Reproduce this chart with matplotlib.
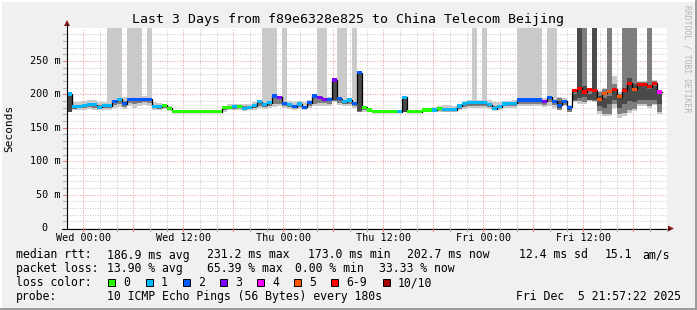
import numpy as np
import pandas as pd
import matplotlib
matplotlib.use("Agg")
import matplotlib.pyplot as plt
import matplotlib.dates as mdates
from matplotlib.transforms import blended_transform_factory
from matplotlib.patches import Rectangle, Polygon

nan = np.nan

# ---------------- data ----------------
TITLE = "Last 3 Days from f89e6328e825 to China Telecom Beijing"
BIN_START = "2025-12-02 22:00"
BIN_MINUTES = 36
VIEW_START = "2025-12-02 22:02:30"
VIEW_HOURS = 72

median_ms = [
    200.6, 181.6, 182.0, 183.7, 185.2, 184.5, 181.0, 183.0, 183.0, 190.0,
    192.6, 186.0, 192.6, 192.0, 192.0, 192.6, 192.6, 181.6, 181.6, 183.7,
    179.0, 174.1, 174.1, 174.1, 174.1, 174.1, 174.1, 174.1, 174.1, 174.1,
    174.1, 180.0, 181.0, 181.6, 181.6, 179.0, 180.5, 183.0, 189.0, 184.6,
    187.6, 197.6, 195.6, 186.6, 184.6, 181.6, 185.6, 180.6, 187.6, 197.6,
    195.6, 193.0, 193.0, 221.6, 193.6, 189.0, 191.6, 186.6, 232.5, 180.6,
    176.6, 174.1, 174.1, 174.1, 174.1, 174.1, 174.1, 195.6, 174.1, 174.1,
    174.1, 176.6, 176.6, 176.6, 178.6, 177.0, 177.0, 177.0, 182.6, 186.6,
    187.6, 187.6, 187.6, 187.6, 184.6, 178.6, 181.6, 185.6, 186.6, 186.6,
    191.6, 191.6, 191.6, 191.6, 191.6, 190.0, 195.6, 190.0, 183.6, 190.0,
    180.6, 205.6, 209.0, 203.6, 207.6, 206.0, 192.6, 201.6, 205.0, 208.0,
    196.6, 206.0, 216.6, 208.0, 215.0, 215.0, 211.6, 216.6, 203.6,
]

lost_pings = [
    1, 1, 1, 1, 1, 1, 1, 1, 1, 2,
    1, 2, 2, 2, 2, 2, 2, 1, 1, 0,
    0, 0, 0, 0, 0, 0, 0, 0, 0, 0,
    0, 0, 0, 1, 0, 1, 1, 1, 1, 1,
    1, 2, 3, 2, 1, 2, 1, 2, 2, 2,
    3, 3, 2, 3, 2, 1, 1, 2, 2, 0,
    0, 0, 0, 0, 0, 0, 1, 1, 0, 0,
    0, 0, 0, 1, 0, 1, 1, 1, 1, 1,
    1, 1, 1, 1, 1, 1, 1, 1, 1, 1,
    2, 2, 2, 2, 2, 3, 2, 2, 2, 2,
    2, 6, 6, 6, 6, 6, 5, 5, 5, 6,
    5, 6, 6, 5, 6, 6, 6, 6, 4,
]

# smoke: outer (lightest), middle and inner (darkest) ranges, ms
smoke_outer_lo = [
    174, 176, 176, 177, 178, 177, 176, 177, 176, 180,
    181, 178, 182, 180, 182, 184, 183, 177, 176, 178,
    175, nan, nan, nan, nan, nan, nan, nan, nan, nan,
    nan, 174, 176, 176, 176, 175, 176, 177, 180, 178,
    180, 181, 182, 179, 178, 176, 178, 176, 179, 182,
    183, 183, 183, 189, 184, 182, 183, 180, 174, 174,
    174, nan, nan, nan, nan, nan, nan, 174, nan, nan,
    nan, 174, 174, 174, 174, 174, 174, 174, 176, 178,
    180, 180, 180, 180, 178, 176, 177, 179, 179, 179,
    182, 182, 182, 182, 182, 181, 182, 180, 176, 182,
    173, 188, 185, 185, 190, 188, 170, 168, 168, 180,
    165, 168, 172, 175, 182, 182, 180, 184, 170,
]
smoke_outer_hi = [
    201, 189, 188, 190, 191, 191, 188, 189, 400, 400,
    400, 196, 400, 400, 400, 197, 400, 188, 187, 186,
    182, nan, nan, nan, nan, nan, nan, nan, nan, nan,
    nan, 182, 185, 186, 186, 185, 186, 188, 191, 400,
    400, 400, 198, 400, 190, 188, 190, 188, 192, 200,
    400, 400, 196, 223, 400, 400, 195, 400, 234, 183,
    178, nan, nan, nan, nan, nan, nan, 196, nan, nan,
    nan, 180, 180, 181, 182, 184, 184, 183, 186, 190,
    192, 400, 192, 400, 191, 188, 188, 190, 190, 191,
    400, 400, 400, 400, 400, 195, 400, 400, 196, 194,
    184, 208, 400, 400, 210, 400, 205, 210, 400, 228,
    203, 400, 400, 400, 220, 220, 400, 222, 206,
]
smoke_mid_lo = [
    174, 178, 179, 180, 181, 180, 178, 179, 179, 184,
    186, 181, 187, 186, 187, 188, 187, 179, 178, 180,
    177, nan, nan, nan, nan, nan, nan, nan, nan, nan,
    nan, 176, 178, 178, 179, 177, 178, 179, 183, 181,
    183, 186, 186, 182, 181, 179, 181, 178, 182, 186,
    187, 187, 186, 190, 187, 185, 186, 183, 174, 176,
    175, nan, nan, nan, nan, nan, nan, 174, nan, nan,
    nan, 175, 175, 175, 176, 175, 175, 175, 178, 181,
    183, 183, 183, 183, 181, 177, 179, 182, 182, 182,
    186, 186, 186, 186, 186, 184, 188, 184, 177, 184,
    174, 190, 190, 189, 191, 190, 175, 170, 170, 185,
    170, 172, 176, 178, 186, 186, 183, 186, 174,
]
smoke_mid_hi = [
    201, 184, 184, 186, 187, 186, 184, 185, 186, 192,
    194, 190, 194, 194, 194, 194, 194, 184, 184, 185,
    180, nan, nan, nan, nan, nan, nan, nan, nan, nan,
    nan, 181, 183, 184, 184, 182, 183, 185, 190, 187,
    190, 200, 197, 189, 187, 184, 187, 183, 190, 199,
    197, 195, 195, 222, 195, 191, 193, 189, 233, 182,
    177, nan, nan, nan, nan, nan, nan, 196, nan, nan,
    nan, 178, 178, 178, 180, 180, 180, 180, 184, 188,
    189, 189, 189, 189, 187, 183, 184, 187, 188, 188,
    193, 193, 193, 193, 193, 192, 197, 192, 195, 192,
    183, 207, 400, 400, 209, 400, 204, 208, 400, 215,
    200, 400, 400, 400, 218, 218, 400, 220, 205,
]
smoke_inner_lo = [
    174, nan, nan, nan, nan, nan, nan, nan, nan, nan,
    nan, nan, nan, nan, nan, nan, nan, nan, nan, nan,
    nan, nan, nan, nan, nan, nan, nan, nan, nan, nan,
    nan, nan, nan, nan, nan, nan, nan, nan, nan, nan,
    nan, nan, nan, nan, nan, nan, nan, nan, nan, nan,
    nan, nan, nan, 191.6, nan, nan, nan, nan, 174.6, nan,
    nan, nan, nan, nan, nan, nan, nan, 174, nan, nan,
    nan, nan, nan, nan, nan, nan, nan, nan, nan, nan,
    nan, nan, nan, nan, nan, nan, nan, nan, nan, nan,
    nan, nan, nan, nan, nan, nan, nan, nan, 180, nan,
    176, 192, 195, 196, 192, 192, 183, 180, 185, 192,
    180, 185, 190, 188, 192, 192, 192, 192, 185,
]
smoke_inner_hi = [
    200, nan, nan, nan, nan, nan, nan, nan, nan, nan,
    nan, nan, nan, nan, nan, nan, nan, nan, nan, nan,
    nan, nan, nan, nan, nan, nan, nan, nan, nan, nan,
    nan, nan, nan, nan, nan, nan, nan, nan, nan, nan,
    nan, nan, nan, nan, nan, nan, nan, nan, nan, nan,
    nan, nan, nan, 221.6, nan, nan, nan, nan, 232.5, nan,
    nan, nan, nan, nan, nan, nan, nan, 195.6, nan, nan,
    nan, nan, nan, nan, nan, nan, nan, nan, nan, nan,
    nan, nan, nan, nan, nan, nan, nan, nan, nan, nan,
    nan, nan, nan, nan, nan, nan, nan, nan, 190, nan,
    182, 200, 400, 212, 200, 400, 197, 195, 198, 206,
    195, 210, 225, 215, 212, 212, 208, 212, 200,
]

loss_labels = ["0", "1", "2", "3", "4", "5", "6-9", "10/10"]
loss_colors = ["#26ff00", "#00b8ff", "#0059ff", "#7e00ff", "#ff00ff",
               "#ff5500", "#ff0000", "#a10000"]
smoke_colors = ["#cacaca", "#7e7e7e", "#4a4a4a"]

y_ticks = [0, 50, 100, 150, 200, 250]
y_tick_labels = ["0", "50 m", "100 m", "150 m", "200 m", "250 m"]
x_tick_times = ["2025-12-03 00:00", "2025-12-03 12:00", "2025-12-04 00:00",
                "2025-12-04 12:00", "2025-12-05 00:00", "2025-12-05 12:00"]
x_tick_labels = ["Wed 00:00", "Wed 12:00", "Thu 00:00",
                 "Thu 12:00", "Fri 00:00", "Fri 12:00"]

rtt_head = "median rtt:"
rtt_stats = ["186.9 ms avg", "231.2 ms max", "173.0 ms min",
             "202.7 ms now", "12.4 ms sd", "15.1", "am/s"]
loss_head = "packet loss:"
loss_stats = ["13.90 % avg", "65.39 % max", "0.00 % min", "33.33 % now"]
color_head = "loss color:"
probe_head = "probe:"
probe_text = "10 ICMP Echo Pings (56 Bytes) every 180s"
stamp_text = "Fri Dec  5 21:57:22 2025"
watermark = "RRDTOOL / TOBI OETIKER"

# ---------------- figure ----------------
W, H = 697, 310
MONO = "DejaVu Sans Mono"
fig = plt.figure(figsize=(W / 100, H / 100), dpi=100, facecolor="#f0f0f0")

PX_L, PX_R, PX_T, PX_B = 67, 667, 27.6, 228
ax = fig.add_axes([PX_L / W, 1 - PX_B / H, (PX_R - PX_L) / W, (PX_B - PX_T) / H])
ax.set_facecolor("white")
for s in ax.spines.values():
    s.set_visible(False)
ax.set_xticks([])
ax.set_yticks([])

t0 = pd.Timestamp(VIEW_START)
x0 = mdates.date2num(t0.to_pydatetime())
x1 = mdates.date2num((t0 + pd.Timedelta(hours=VIEW_HOURS)).to_pydatetime())
ax.set_xlim(x0, x1)
ax.set_ylim(0, 300)

# grid
grid_times = pd.date_range("2025-12-02 22:00", "2025-12-05 22:00", freq="2h")
for gt in grid_times:
    gx = mdates.date2num(gt.to_pydatetime())
    major = gt.hour % 6 == 0
    ax.axvline(gx, color="#eea0a0" if major else "#cfcfcf", lw=0.75,
               dashes=(1, 1.4), zorder=0.5)
for gv in range(10, 300, 10):
    major = gv % 50 == 0
    ax.axhline(gv, color="#eea0a0" if major else "#cfcfcf", lw=0.75,
               dashes=(1, 1.4), zorder=0.5)

# data
times = pd.date_range(BIN_START, periods=len(median_ms), freq=f"{BIN_MINUTES}min")
bx = mdates.date2num(times.to_pydatetime())
bw = BIN_MINUTES / 1440.0
med = np.array(median_ms, dtype=float)

layers = [(smoke_outer_lo, smoke_outer_hi), (smoke_mid_lo, smoke_mid_hi),
          (smoke_inner_lo, smoke_inner_hi)]
for (lo, hi), col, z in zip(layers, smoke_colors, [1, 2, 3]):
    lo = np.array(lo, dtype=float)
    hi = np.array(hi, dtype=float)
    ok = ~np.isnan(lo)
    ax.bar(bx[ok], hi[ok] - lo[ok], bottom=lo[ok], width=bw, align="edge",
           color=col, linewidth=0, zorder=z)

edges = np.append(bx, bx[-1] + bw)
ax.step(edges, np.append(med, med[-1]), where="post", color="#000000",
        lw=0.9, zorder=4)


def loss_class(n):
    if n <= 5:
        return n
    if n < 10:
        return 6
    return 7


cols = [loss_colors[loss_class(n)] for n in lost_pings]
SW = 2.3
ax.bar(bx, 2 * SW, bottom=med - SW, width=bw, align="edge", color=cols,
       linewidth=0, zorder=5)

# ---------------- overlay in pixel coordinates ----------------
ov = fig.add_axes([0, 0, 1, 1], zorder=10)
ov.set_xlim(0, W)
ov.set_ylim(H, 0)
ov.axis("off")

# frame
ov.add_patch(Rectangle((0, 0), W, 1.5, color="#ffffff", lw=0))
ov.add_patch(Rectangle((0, 0), 1.5, H, color="#ffffff", lw=0))
ov.add_patch(Rectangle((0, H - 2), W, 2, color="#9c9c9c", lw=0))
ov.add_patch(Rectangle((W - 2, 0), 2, H, color="#9c9c9c", lw=0))

# axes lines and arrows
ov.plot([PX_L - 0.5, PX_L - 0.5], [PX_B, 24], color="black", lw=0.8)
ov.plot([62, 669], [PX_B + 0.5, PX_B + 0.5], color="black", lw=0.8)
ov.add_patch(Polygon([[64, 26], [70, 26], [67, 20]], closed=True,
                     color="#8b1a1a", lw=0))
ov.add_patch(Polygon([[668, 225.5], [668, 231.5], [674, 228.5]], closed=True,
                     color="#8b1a1a", lw=0))

# tick marks
xt = blended_transform_factory(ax.transData, ov.transData)
yt = blended_transform_factory(ov.transData, ax.transData)
for gt in grid_times:
    gx = mdates.date2num(gt.to_pydatetime())
    if gx < x0 or gx > x1:
        continue
    major = gt.hour % 6 == 0
    ov.plot([gx, gx], [PX_B, PX_B + 3], transform=xt,
            color="#e08080" if major else "#b0b0b0", lw=0.8)
for gv in range(10, 300, 10):
    major = gv % 50 == 0
    ov.plot([PX_L - 4, PX_L - 1], [gv, gv], transform=yt,
            color="#e08080" if major else "#b0b0b0", lw=0.8)

# tick labels
for tt, lab in zip(x_tick_times, x_tick_labels):
    gx = mdates.date2num(pd.Timestamp(tt).to_pydatetime())
    ov.text(gx, 238, lab, transform=xt, ha="center", va="center",
            family=MONO, fontsize=7.3, color="#000000")
for v, lab in zip(y_ticks, y_tick_labels):
    xr = 61 if v != 0 else 47
    ov.text(xr, v, lab, transform=yt, ha="right", va="center",
            family=MONO, fontsize=7.3, color="#000000")

ov.text(9.5, 128, "Seconds", rotation=90, ha="center", va="center",
        family=MONO, fontsize=8.0)
ov.text(W / 2, 19, TITLE, ha="center", va="center", family=MONO,
        fontsize=9.5)
ov.text(687.5, 5, watermark, rotation=270, ha="center", va="top",
        family=MONO, fontsize=5.9, color="#b4b4b4")

# legend
LF = 8.3
r1, r2, r3, r4 = 255, 268.5, 282.5, 296.5
ov.text(16, r1, rtt_head, ha="left", va="center", family=MONO, fontsize=LF)
for xp, s in zip([107, 207, 308, 407, 519, 605, 642], rtt_stats):
    ov.text(xp, r1, s, ha="left", va="center", family=MONO, fontsize=LF)
ov.text(16, r2, loss_head, ha="left", va="center", family=MONO, fontsize=LF)
for xp, s in zip([107, 207, 295, 379], loss_stats):
    ov.text(xp, r2, s, ha="left", va="center", family=MONO, fontsize=LF)
ov.text(16, r3, color_head, ha="left", va="center", family=MONO, fontsize=LF)
bxp = 108.3
for lab, col in zip(loss_labels, loss_colors):
    ov.add_patch(Rectangle((bxp, r3 - 3.5), 7, 7, facecolor=col,
                           edgecolor="black", lw=0.7))
    ov.text(bxp + 15, r3, lab, ha="left", va="center", family=MONO, fontsize=LF)
    bxp += 37.2 + 7.0 * (len(lab) - 1)
ov.text(16, r4, probe_head, ha="left", va="center", family=MONO, fontsize=LF)
ov.text(107, r4, probe_text, ha="left", va="center", family=MONO, fontsize=LF)
ov.text(681, r4, stamp_text, ha="right", va="center", family=MONO, fontsize=LF)

fig.savefig("out.png", dpi=100, facecolor=fig.get_facecolor())
